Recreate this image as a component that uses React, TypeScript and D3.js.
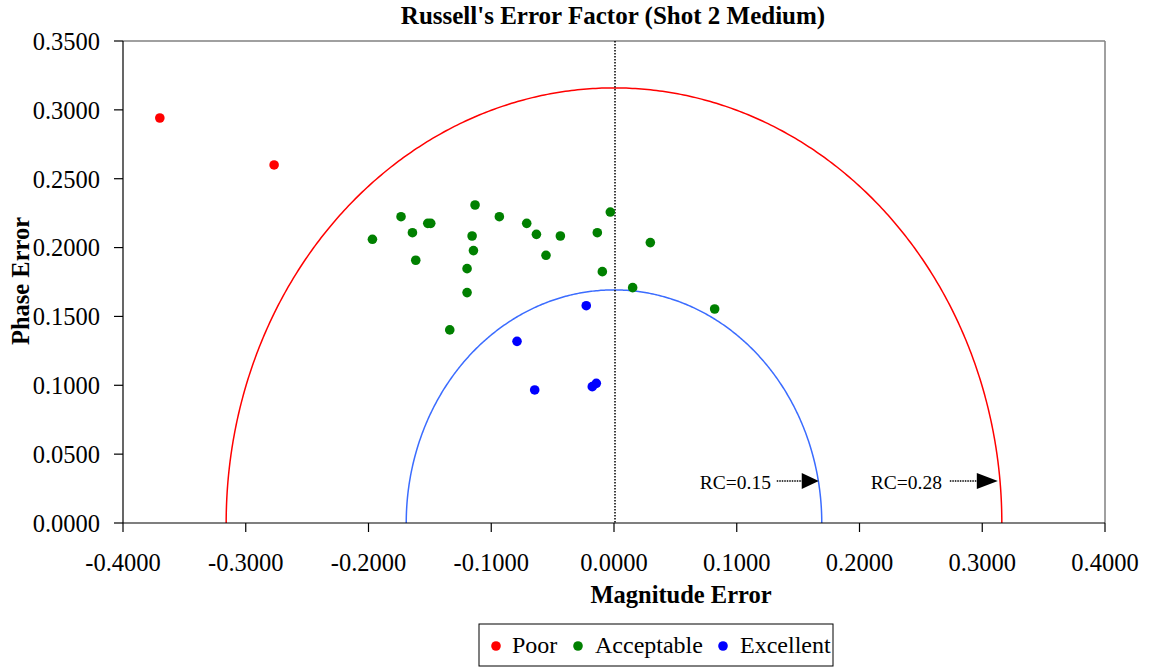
import React from "react";
import * as d3 from "d3";

// ---- data ----
const poorX = [-0.37, -0.2769];
const poorY = [0.2941, 0.26];

const acceptableX = [
  -0.1132, -0.1735, -0.1517, -0.1493, -0.0934, -0.0711, -0.003, -0.1968,
  -0.1642, -0.1156, -0.0632, -0.0437, -0.0136, -0.1145, -0.1615, -0.0554,
  -0.1197, -0.0095, 0.0152, -0.1197, -0.1338, 0.0296, 0.082,
];
const acceptableY = [
  0.2309, 0.2224, 0.2176, 0.2176, 0.2224, 0.2176, 0.2258, 0.206, 0.2108,
  0.2084, 0.2096, 0.2084, 0.2108, 0.1978, 0.1908, 0.1944, 0.1847, 0.1825,
  0.1709, 0.1673, 0.1402, 0.2036, 0.1554,
];

const excellentX = [-0.0226, -0.079, -0.0646, -0.0177, -0.0144];
const excellentY = [0.1578, 0.1319, 0.0966, 0.099, 0.1014];

const rcLevels = [0.15, 0.28];
const rcLabels = ["RC=0.15", "RC=0.28"];
const rcColors = ["#3b6cff", "#ff0000"];

const xTicks = [-0.4, -0.3, -0.2, -0.1, 0, 0.1, 0.2, 0.3, 0.4];
const yTicks = [0, 0.05, 0.1, 0.15, 0.2, 0.25, 0.3, 0.35];

const seriesNames = ["Poor", "Acceptable", "Excellent"];
const seriesColors = ["#ff0000", "#008000", "#0000ff"];

const FONT = "'Liberation Serif', 'Times New Roman', serif";

export default function App() {
  const W = 1153;
  const H = 668;
  const left = 123,
    right = 1105,
    top = 41,
    bottom = 523;
  const x = d3.scaleLinear().domain([-0.4, 0.4]).range([left, right]);
  const y = d3.scaleLinear().domain([0, 0.35]).range([bottom, top]);
  const fmt = d3.formatLocale({ decimal: ".", thousands: ",", grouping: [3], currency: ["", ""], minus: "-" }).format(".4f");

  const series = [
    { xs: poorX, ys: poorY },
    { xs: acceptableX, ys: acceptableY },
    { xs: excellentX, ys: excellentY },
  ];

  const angles = d3.range(0, 401).map((i) => (Math.PI * i) / 400);
  const line = d3
    .line<[number, number]>()
    .x((d) => x(d[0]))
    .y((d) => y(d[1]));

  const legendItems = [
    { dot: 496, text: 512 },
    { dot: 578, text: 595 },
    { dot: 723, text: 740 },
  ];
  const annLayout = [
    { tipAdj: -3, textOff: 119, lineStart: 42, head: 16 },
    { tipAdj: -4, textOff: 127, lineStart: 48, head: 20 },
  ];

  return (
    <svg
      width={W}
      height={H}
      style={{ position: "absolute", left: 0, top: 0, background: "#fff" }}
      fontFamily={FONT}
    >
      <rect x={0} y={0} width={W} height={H} fill="#fff" />
      {/* plot border */}
      <line x1={left} x2={right} y1={top} y2={top} stroke="#808080" strokeWidth={1.5} />
      <line x1={right} x2={right} y1={top} y2={bottom} stroke="#808080" strokeWidth={1.5} />

      {/* RC circles */}
      {rcLevels.map((rc, i) => {
        const r = rc / Math.sqrt(Math.PI / 4);
        const pts = angles.map((a) => [r * Math.cos(a), r * Math.sin(a)] as [number, number]);
        return (
          <path key={i} d={line(pts) || ""} fill="none" stroke={rcColors[i]} strokeWidth={1.5} />
        );
      })}

      {/* vertical dotted line at 0 */}
      <line
        x1={x(0) + 1}
        x2={x(0) + 1}
        y1={top}
        y2={bottom}
        stroke="#000"
        strokeWidth={1.5}
        strokeDasharray="1.5,1.5"
      />

      {/* RC annotations */}
      {rcLevels.map((rc, i) => {
        const r = rc / Math.sqrt(Math.PI / 4);
        const L = annLayout[i];
        const tip = x(r) + L.tipAdj;
        const yy = y(0.0305);
        return (
          <g key={i}>
            <text x={tip - L.textOff} y={yy + 8} fontSize={19.5} fill="#000">
              {rcLabels[i]}
            </text>
            <line
              x1={tip - L.lineStart}
              x2={tip - L.head}
              y1={yy}
              y2={yy}
              stroke="#000"
              strokeWidth={1.5}
              strokeDasharray="1.5,1"
            />
            <path d={`M${tip - L.head - 1},${yy - 8} L${tip},${yy} L${tip - L.head - 1},${yy + 8} Z`} fill="#000" />
          </g>
        );
      })}

      {/* points */}
      {series.map((s, si) =>
        s.xs.map((v, i) => (
          <circle key={`${si}-${i}`} cx={x(v)} cy={y(s.ys[i])} r={4.8} fill={seriesColors[si]} />
        ))
      )}

      {/* axes */}
      <line x1={left} x2={left} y1={top} y2={bottom} stroke="#000" strokeWidth={1.2} />
      <line x1={left} x2={right} y1={bottom} y2={bottom} stroke="#000" strokeWidth={1.2} />
      {yTicks.map((t) => (
        <g key={`y${t}`}>
          <line x1={left - 9} x2={left} y1={y(t)} y2={y(t)} stroke="#000" strokeWidth={1.2} />
          <text x={100} y={y(t)} dy="0.36em" textAnchor="end" fontSize={24.5} fill="#000">
            {fmt(t)}
          </text>
        </g>
      ))}
      {xTicks.map((t) => (
        <g key={`x${t}`}>
          <line x1={x(t)} x2={x(t)} y1={bottom} y2={bottom + 9} stroke="#000" strokeWidth={1.2} />
          <text x={x(t)} y={571} textAnchor="middle" fontSize={24.5} fill="#000">
            {fmt(t)}
          </text>
        </g>
      ))}

      {/* titles */}
      <text x={613} y={24} textAnchor="middle" fontSize={25} fontWeight="bold" fill="#000">
        Russell's Error Factor (Shot 2 Medium)
      </text>
      <text x={681} y={603} textAnchor="middle" fontSize={24.5} fontWeight="bold" fill="#000">
        Magnitude Error
      </text>
      <text
        transform="translate(29,281) rotate(-90)"
        textAnchor="middle"
        fontSize={24.5}
        fontWeight="bold"
        fill="#000"
      >
        Phase Error
      </text>

      {/* legend */}
      <rect x={479} y={624} width={354} height={42} fill="#fff" stroke="#000" strokeWidth={1} />
      {seriesNames.map((n, i) => (
        <g key={n}>
          <circle cx={legendItems[i].dot} cy={646} r={4.8} fill={seriesColors[i]} />
          <text x={legendItems[i].text} y={653} fontSize={24} fill="#000">
            {n}
          </text>
        </g>
      ))}
    </svg>
  );
}
